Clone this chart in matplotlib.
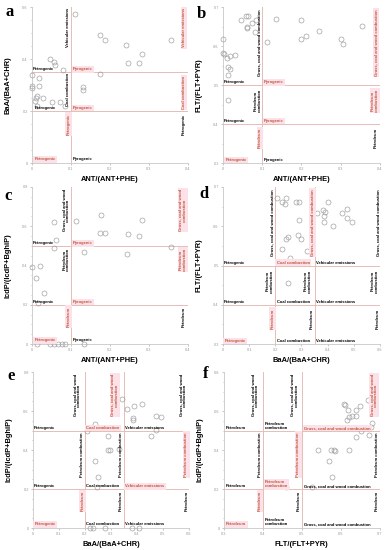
import numpy as np
import matplotlib.pyplot as plt
from matplotlib.ticker import MultipleLocator

plt.rcParams['font.family'] = ['Liberation Sans', 'DejaVu Sans']

# ---- data ----
a_x = [0.110, 0.174, 0.187, 0.240, 0.281, 0.245, 0.275, 0.356, 0.046, 0.056, 0.060, 0.080,
       0.000, 0.018, 0.000, 0.000, 0.018, 0.012, 0.010, 0.029, 0.008, 0.050, 0.072, 0.012,
       0.084, 0.131, 0.131, 0.174]
a_y = [0.572, 0.491, 0.473, 0.454, 0.419, 0.386, 0.386, 0.473, 0.400, 0.390, 0.377, 0.359,
       0.337, 0.326, 0.297, 0.288, 0.297, 0.259, 0.249, 0.249, 0.237, 0.236, 0.236, 0.218,
       0.220, 0.292, 0.282, 0.344]

b_x = [0.000, 0.000, 0.003, 0.009, 0.019, 0.031, 0.014, 0.019, 0.014, 0.014, 0.047, 0.058,
       0.064, 0.060, 0.062, 0.074, 0.085, 0.082, 0.111, 0.134, 0.200, 0.200, 0.211, 0.245,
       0.300, 0.305, 0.355]
b_y = [0.619, 0.583, 0.579, 0.569, 0.574, 0.577, 0.547, 0.542, 0.525, 0.461, 0.667, 0.676,
       0.676, 0.649, 0.646, 0.659, 0.668, 0.637, 0.611, 0.669, 0.668, 0.617, 0.626, 0.639,
       0.617, 0.606, 0.651]

c_x = [0.057, 0.061, 0.056, 0.000, 0.020, 0.009, 0.032, 0.016, 0.112, 0.134, 0.177, 0.174,
       0.188, 0.245, 0.283, 0.275, 0.243, 0.356, 0.012, 0.046, 0.056, 0.067, 0.076, 0.084,
       0.133]
c_y = [0.621, 0.531, 0.490, 0.391, 0.398, 0.338, 0.258, 0.207, 0.626, 0.471, 0.655, 0.565,
       0.568, 0.561, 0.634, 0.551, 0.461, 0.492, 0.0, 0.0, 0.0, 0.0, 0.0, 0.0, 0.0]

d_x = [0.207, 0.224, 0.236, 0.239, 0.278, 0.290, 0.290, 0.287, 0.300, 0.239, 0.249, 0.224,
       0.255, 0.323, 0.361, 0.383, 0.391, 0.387, 0.386, 0.400, 0.419, 0.455, 0.474, 0.473,
       0.492, 0.249]
d_y = [0.673, 0.663, 0.656, 0.671, 0.662, 0.663, 0.615, 0.579, 0.568, 0.568, 0.572, 0.543,
       0.520, 0.538, 0.634, 0.642, 0.637, 0.626, 0.611, 0.662, 0.601, 0.633, 0.645, 0.621,
       0.611, 0.456]

e_x = [0.238, 0.209, 0.290, 0.290, 0.297, 0.331, 0.238, 0.252, 0.245, 0.342, 0.360, 0.388,
       0.421, 0.386, 0.386, 0.475, 0.494, 0.473, 0.453, 0.220, 0.230, 0.277, 0.379, 0.407]
e_y = [0.535, 0.496, 0.474, 0.398, 0.402, 0.404, 0.342, 0.262, 0.210, 0.662, 0.608, 0.625,
       0.636, 0.564, 0.552, 0.573, 0.568, 0.504, 0.470, 0.0, 0.0, 0.0, 0.0, 0.0]

f_x = [0.608, 0.611, 0.619, 0.621, 0.628, 0.617, 0.649, 0.638, 0.640, 0.670, 0.679, 0.678,
       0.652, 0.640, 0.673, 0.542, 0.576, 0.582, 0.585, 0.621, 0.570, 0.578, 0.527, 0.460]
f_y = [0.638, 0.631, 0.603, 0.569, 0.573, 0.552, 0.624, 0.607, 0.573, 0.658, 0.538, 0.518,
       0.499, 0.468, 0.475, 0.402, 0.402, 0.402, 0.394, 0.402, 0.342, 0.262, 0.210, 0.212]

LINE = '#e6bfb6'
RED = '#c0583f'
PINK = '#fde1e8'


def lab(ax, x, y, s, red=False, rot=0):
    kw = dict(fontsize=3.0, fontweight='bold', color=RED if red else 'black',
              rotation=rot, zorder=4, linespacing=1.0)
    if red:
        kw['bbox'] = dict(boxstyle='square,pad=0.3', fc=PINK, ec='none')
    if rot:
        ax.text(x, y, s, ha='center', va='top', **kw)
    else:
        ax.text(x, y, s, ha='left', va='bottom', **kw)


def base(rect, xlim, ylim, xmaj, ymaj, xlabel, ylabel, vlines, hlines, x, y):
    ax = fig.add_axes(rect)
    ax.set_xlim(*xlim)
    ax.set_ylim(*ylim)
    for s in ['top', 'right']:
        ax.spines[s].set_visible(False)
    for s in ['left', 'bottom']:
        ax.spines[s].set_color('#c8c8c8')
        ax.spines[s].set_linewidth(0.6)
    ax.xaxis.set_major_locator(MultipleLocator(xmaj))
    ax.yaxis.set_major_locator(MultipleLocator(ymaj))
    ax.yaxis.set_minor_locator(MultipleLocator(ymaj / 4 if ymaj > 0.1 else ymaj / 2))
    ax.tick_params(which='both', labelsize=2.8, colors='#9a9a9a', length=1.5, width=0.4, pad=1.5)
    ax.tick_params(which='minor', length=1)
    ax.xaxis.set_major_formatter(lambda v, p: ('%g' % round(v, 2)))
    ax.yaxis.set_major_formatter(lambda v, p: ('%g' % round(v, 2)))
    ax.set_xlabel(xlabel, fontsize=5.4, fontweight='bold')
    ax.set_ylabel(ylabel, fontsize=5.4, fontweight='bold')
    ax.xaxis.set_label_coords(0.5, -0.085)
    ax.yaxis.set_label_coords(-0.13, 0.5)
    for v in vlines:
        ax.axvline(v, color=LINE, lw=0.7, zorder=1)
    for h in hlines:
        ax.axhline(h, color=LINE, lw=0.7, zorder=1)
    ax.plot(x, y, 'o', ms=3.6, mfc='none', mec='#9a9a9a', mew=0.45, clip_on=False, zorder=3)
    return ax


fig = plt.figure(figsize=(3.88, 5.5), dpi=100)

# panel a
ax = base([0.0825, 0.7036, 0.402, 0.2836], (0, 0.4), (0, 0.6), 0.1, 0.2,
          'ANT/(ANT+PHE)', 'BaA/(BaA+CHR)', [0.1], [0.2, 0.35], a_x, a_y)
lab(ax, 0.093, 0.595, 'Vehicular emissions', rot=90)
lab(ax, 0.003, 0.353, 'Petrogenic')
lab(ax, 0.105, 0.353, 'Pyrogenic', red=True)
lab(ax, 0.093, 0.345, 'Coal combustion', rot=90)
lab(ax, 0.006, 0.203, 'Petrogenic')
lab(ax, 0.105, 0.203, 'Pyrogenic', red=True)
lab(ax, 0.093, 0.19, 'Petrogenic', red=True, rot=90)
lab(ax, 0.006, 0.006, 'Petrogenic', red=True)
lab(ax, 0.105, 0.006, 'Pyrogenic')
lab(ax, 0.39, 0.595, 'Vehicular emissions', red=True, rot=90)
lab(ax, 0.39, 0.335, 'Coal combustion', red=True, rot=90)
lab(ax, 0.39, 0.19, 'Petrogenic', rot=90)

# panel b
ax = base([0.5747, 0.7036, 0.4046, 0.2836], (0, 0.4), (0.3, 0.7), 0.1, 0.1,
          'ANT/(ANT+PHE)', 'FLT/(FLT+PYR)', [0.1], [0.4, 0.5], b_x, b_y)
lab(ax, 0.094, 0.695, 'Grass, coal and wood combustion', rot=90)
lab(ax, 0.003, 0.502, 'Petrogenic')
lab(ax, 0.105, 0.502, 'Pyrogenic', red=True)
lab(ax, 0.088, 0.49, 'Petroleum\ncombustion', rot=90)
lab(ax, 0.003, 0.402, 'Petrogenic')
lab(ax, 0.105, 0.402, 'Pyrogenic', red=True)
lab(ax, 0.094, 0.39, 'Petroleum', red=True, rot=90)
lab(ax, 0.006, 0.303, 'Petrogenic', red=True)
lab(ax, 0.105, 0.303, 'Pyrogenic')
lab(ax, 0.39, 0.695, 'Grass, coal and wood combustion', red=True, rot=90)
lab(ax, 0.387, 0.49, 'Petroleum\ncombustion', red=True, rot=90)
lab(ax, 0.39, 0.39, 'Petroleum', rot=90)

# panel c
ax = base([0.0825, 0.3745, 0.402, 0.2855], (0, 0.4), (0, 0.8), 0.1, 0.2,
          'ANT/(ANT+PHE)', 'IcdP/(IcdP+BghiP)', [0.1], [0.2, 0.5], c_x, c_y)
lab(ax, 0.088, 0.79, 'Grass, coal and wood\ncombustion', rot=90)
lab(ax, 0.003, 0.503, 'Petrogenic')
lab(ax, 0.105, 0.503, 'Pyrogenic', red=True)
lab(ax, 0.088, 0.49, 'Petroleum\ncombustion', rot=90)
lab(ax, 0.003, 0.203, 'Petrogenic')
lab(ax, 0.105, 0.203, 'Pyrogenic', red=True)
lab(ax, 0.094, 0.19, 'Petroleum', red=True, rot=90)
lab(ax, 0.006, 0.008, 'Petrogenic', red=True)
lab(ax, 0.105, 0.008, 'Pyrogenic')
lab(ax, 0.387, 0.79, 'Grass, coal and wood\ncombustion', red=True, rot=90)
lab(ax, 0.387, 0.49, 'Petroleum\ncombustion', red=True, rot=90)
lab(ax, 0.39, 0.19, 'Petroleum', rot=90)

# panel d
ax = base([0.5747, 0.3745, 0.4046, 0.2855], (0, 0.6), (0.3, 0.7), 0.1, 0.1,
          'BaA/(BaA+CHR)', 'FLT/(FLT+PYR)', [0.2, 0.35], [0.4, 0.5], d_x, d_y)
for xv, red in [(0.19, False), (0.343, True), (0.593, False)]:
    lab(ax, xv, 0.695, 'Grass, coal and wood combustion', red=red, rot=90)
lab(ax, 0.003, 0.502, 'Petrogenic')
lab(ax, 0.205, 0.502, 'Coal combustion', red=True)
lab(ax, 0.355, 0.502, 'Vehicular emissions')
for xv in [0.178, 0.325, 0.58]:
    lab(ax, xv, 0.49, 'Petroleum\ncombustion', rot=90)
lab(ax, 0.003, 0.402, 'Petrogenic')
lab(ax, 0.205, 0.402, 'Coal combustion')
lab(ax, 0.355, 0.402, 'Vehicular emissions')
lab(ax, 0.19, 0.39, 'Petroleum', red=True, rot=90)
lab(ax, 0.34, 0.39, 'Petroleum', rot=90)
lab(ax, 0.593, 0.39, 'Petroleum', rot=90)
lab(ax, 0.006, 0.303, 'Petrogenic', red=True)
lab(ax, 0.205, 0.303, 'Coal combustion')
lab(ax, 0.355, 0.303, 'Vehicular emissions')

# panel e
ax = base([0.085, 0.04, 0.402, 0.2836], (0, 0.6), (0, 0.8), 0.1, 0.2,
          'BaA/(BaA+CHR)', 'IcdP/(IcdP+BghiP)', [0.2, 0.35], [0.2, 0.5], e_x, e_y)
lab(ax, 0.17, 0.79, 'Grass, coal and wood\ncombustion', rot=90)
lab(ax, 0.315, 0.79, 'Grass, coal and wood\ncombustion', red=True, rot=90)
lab(ax, 0.578, 0.79, 'Grass, coal and wood\ncombustion', rot=90)
lab(ax, 0.003, 0.503, 'Petrogenic')
lab(ax, 0.205, 0.503, 'Coal combustion', red=True)
lab(ax, 0.355, 0.503, 'Vehicular emissions')
lab(ax, 0.19, 0.49, 'Petroleum combustion', rot=90)
lab(ax, 0.337, 0.49, 'Petroleum combustion', rot=90)
lab(ax, 0.59, 0.49, 'Petroleum combustion', red=True, rot=90)
lab(ax, 0.003, 0.203, 'Petrogenic')
lab(ax, 0.205, 0.203, 'Coal combustion')
lab(ax, 0.355, 0.203, 'Vehicular emissions', red=True)
lab(ax, 0.19, 0.19, 'Petroleum', red=True, rot=90)
lab(ax, 0.337, 0.19, 'Petroleum', rot=90)
lab(ax, 0.59, 0.19, 'Petroleum', rot=90)
lab(ax, 0.006, 0.008, 'Petrogenic', red=True)
lab(ax, 0.205, 0.008, 'Coal combustion')
lab(ax, 0.355, 0.008, 'Vehicular emissions')

# panel f
ax = base([0.577, 0.04, 0.402, 0.2836], (0.3, 0.7), (0, 0.8), 0.1, 0.2,
          'FLT/(FLT+PYR)', 'IcdP/(IcdP+BghiP)', [0.4, 0.5], [0.2, 0.5], f_x, f_y)
lab(ax, 0.38, 0.79, 'Grass, coal and wood\ncombustion', rot=90)
lab(ax, 0.482, 0.79, 'Grass, coal and wood\ncombustion', rot=90)
lab(ax, 0.685, 0.79, 'Grass, coal and wood\ncombustion', red=True, rot=90)
lab(ax, 0.305, 0.503, 'Petroleum')
lab(ax, 0.405, 0.503, 'Petroleum\ncombustion')
lab(ax, 0.505, 0.503, 'Grass, coal and wood combustion', red=True)
lab(ax, 0.393, 0.49, 'Petroleum combustion', rot=90)
lab(ax, 0.491, 0.49, 'Petroleum combustion', red=True, rot=90)
lab(ax, 0.692, 0.49, 'Petroleum combustion', rot=90)
lab(ax, 0.305, 0.203, 'Petroleum')
lab(ax, 0.405, 0.203, 'Petroleum\ncombustion', red=True)
lab(ax, 0.505, 0.203, 'Grass, coal and wood combustion')
lab(ax, 0.393, 0.19, 'Petroleum', red=True, rot=90)
lab(ax, 0.491, 0.19, 'Petroleum', rot=90)
lab(ax, 0.692, 0.19, 'Petroleum', rot=90)
lab(ax, 0.306, 0.008, 'Petroleum', red=True)
lab(ax, 0.405, 0.008, 'Petroleum\ncombustion')
lab(ax, 0.505, 0.008, 'Grass, coal and wood combustion')

# panel letters
for s, x, y in [('a', 0.015, 0.970), ('b', 0.508, 0.968), ('c', 0.010, 0.637),
                ('d', 0.513, 0.640), ('e', 0.018, 0.309), ('f', 0.522, 0.313)]:
    fig.text(x, y, s, fontsize=12, fontweight='bold', family='Liberation Serif')

fig.savefig('out.png', dpi=100)
